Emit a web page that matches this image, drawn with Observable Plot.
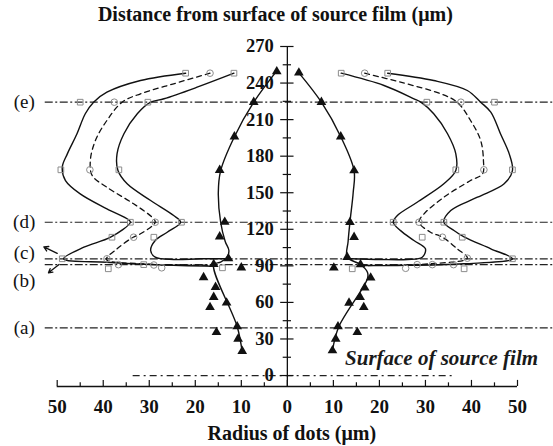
<!DOCTYPE html>
<html>
<head>
<meta charset="utf-8">
<script src="https://cdn.jsdelivr.net/npm/d3@7"></script>
<script src="https://cdn.jsdelivr.net/npm/@observablehq/plot@0.6"></script>
<style>
  html, body { margin: 0; padding: 0; background: #fff; }
  #chart svg { display: block; }
</style>
</head>
<body>
<div id="chart"></div>
<script>
// ---------- tick values ----------
const yMajorTicks = [0, 30, 60, 90, 120, 150, 180, 210, 240, 270];
const yMinorTicks = [15, 45, 75, 105, 135, 165, 195, 225, 255];
const xMajorTicks = [-50, -40, -30, -20, -10, 0, 10, 20, 30, 40, 50];
const xMinorTicks = [-45, -35, -25, -15, -5, 5, 15, 25, 35, 45];

// ---------- reference levels ----------
const levelNames = ["(e)", "(d)", "(c)", "(b)", "(a)"];
const levelValues = [224.3, 125.8, 95.8, 91.0, 39.1];
const refLineX = [-52.6, 58];       // extent of dash-dot level lines
const surfaceLineX = [-33.5, 36];    // extent of source-film surface line (y = 0)

// ---------- filled triangles (dot radius data) ----------
const triLeftX  = [-2.3, -7.3, -11.5, -14.7, -13.6, -14.7, -12.8, -16.0, -10.0, -18.2, -15.6, -16.0, -13.2, -16.8, -10.9, -15.4, -10.7, -9.8];
const triLeftY  = [249.5, 224.3, 196, 168.5, 126, 114, 96, 91.3, 88.5, 80.5, 72.5, 64.3, 59.7, 56, 40.2, 35.5, 30.1, 20];
const triRightX = [2.5, 7.4, 11.6, 14.5, 13.6, 14.5, 13.0, 15.9, 10.1, 18.1, 16.8, 15.8, 13.4, 16.6, 11.0, 15.2, 10.5, 9.8];
const triRightY = [248.4, 224.3, 196, 168.2, 125.8, 113.5, 97.1, 91.1, 88.4, 80.2, 72, 64.3, 59.6, 56, 40.2, 35.5, 30.1, 20.5];

// fitted line through triangles
const fitLeftX  = [-2.3, -7.3, -11.5, -14.5, -15.0, -14.5, -13.5, -12.7, -13.1, -14.5, -16.0, -10.9, -9.8];
const fitLeftY  = [250, 224.3, 196, 168, 150, 126, 110, 102.6, 97.1, 93, 91.1, 40.2, 19.1];
const fitRightX = [2.5, 7.4, 11.6, 14.5, 14.3, 13.6, 13.2, 13.0, 15.9, 17.4, 17.4, 11.2, 9.8];
const fitRightY = [248.4, 224.3, 196, 168, 150, 126, 110, 97.1, 91.1, 84.8, 79.4, 40.2, 20.5];

// ---------- open markers ----------
const sqLeftX  = [-22.1, -11.6, -45.0, -30.3, -49.2, -36.6, -34.1, -23.0, -38.1, -29.0, -48.9, -38.9, -31.2, -14.1];
const sqLeftY  = [248.1, 248.1, 224.3, 224.3, 168.8, 168.8, 125.8, 125.8, 113.5, 113.5, 95.8, 87.6, 91.0, 88.4];
const ciLeftX  = [-16.8, -37.6, -42.9, -28.7, -33.4, -39.2, -36.7, -29.0, -27.3];
const ciLeftY  = [248.1, 224.3, 168.8, 125.8, 113.5, 95.8, 91.0, 90.7, 88.4];
const sqRightX = [11.7, 21.8, 30.3, 45.0, 36.6, 48.9, 23.0, 34.0, 29.3, 38.0, 48.9, 14.1, 38.4];
const sqRightY = [248.1, 248.1, 224.3, 224.3, 168.8, 168.8, 125.8, 125.8, 113.5, 113.5, 95.8, 87.6, 87.6];
const ciRightX = [16.8, 37.7, 42.7, 28.6, 33.7, 39.1, 25.7, 28.2, 31.5, 36.1];
const ciRightY = [248.1, 224.3, 168.8, 125.8, 113.5, 96.3, 88.0, 91.0, 91.0, 91.0];

// ---------- smooth curves ----------
const outerLeftX  = [-22.1, -31.9, -39.2, -42.1, -43.9, -45.7, -47.8, -48.9, -48.2, -45.0, -39.2, -34.5, -34.1, -38.4, -44.2, -48.6, -39.2, -28.3, -16.0];
const outerLeftY  = [248.1, 242.1, 232.5, 224.3, 214.8, 198.4, 181.9, 171, 160, 149.1, 136.8, 127.8, 125.8, 113.5, 105.3, 95.8, 93, 90.9, 89.7];
const dashLeftX   = [-16.8, -24.7, -31.9, -35.9, -39.2, -41.7, -42.8, -42.4, -39.2, -33.4, -29.4, -28.7, -31.9, -33.5, -37.0, -39.3, -31.9, -16.5];
const dashLeftY   = [248.1, 239.4, 231.2, 224.3, 209.3, 192.9, 176.4, 164.1, 154.5, 140.9, 129.9, 125.8, 116.3, 113.5, 104, 95.2, 91.7, 90.5];
const innerLeftX  = [-11.6, -19.6, -26.8, -29.7, -32.6, -35.5, -37.0, -36.8, -34.8, -29.7, -24.7, -23.2, -26.1, -28.7, -29.7, -28.7, -24.7, -18.9, -13.1];
const innerLeftY  = [248.1, 236.6, 227.1, 224.3, 214.8, 198.4, 181.9, 168.2, 157.3, 143.6, 131.3, 125.8, 117.6, 110.8, 102.6, 97.1, 95.2, 95.8, 95.8];

const innerRightX = [11.7, 21.0, 27.5, 29.0, 31.8, 34.8, 36.6, 36.6, 34.0, 28.2, 23.9, 23.0, 24.6, 27.5, 30.0, 29.3, 26.1, 20.3, 13.7];
const innerRightY = [248.1, 238, 227.1, 224.3, 214.8, 198.4, 181.9, 168.2, 157.3, 142.2, 131.3, 125.8, 118.9, 110.8, 104, 97.1, 95.2, 95.2, 95.8];
const dashRightX  = [16.8, 24.6, 33.3, 36.9, 39.8, 42.0, 42.6, 42.4, 39.8, 34.0, 29.7, 28.6, 31.1, 33.7, 36.9, 39.1, 31.1, 16.6];
const dashRightY  = [248.1, 240.7, 231.2, 224.3, 209.3, 192.9, 176.4, 165.5, 160, 146.3, 132.7, 125.8, 117.6, 113.5, 104, 96.3, 91.7, 90.3];
const outerRightX = [21.8, 31.8, 39.1, 42.0, 44.2, 46.3, 48.2, 48.9, 47.1, 41.3, 35.5, 34.0, 36.2, 38.5, 44.2, 48.9, 38.4, 23.9, 15.9];
const outerRightY = [248.1, 242.1, 233.9, 224.3, 216.1, 198.4, 181.9, 168.2, 157.3, 146.3, 135.4, 125.8, 119, 113.5, 104, 95.8, 91.7, 90.3, 90.3];

// small arrows at the outer tip (levels c and b)
const arrowX1 = [-50.0, -49.6];
const arrowY1 = [100.2, 91.1];
const arrowX2 = [-52.9, -51.9];
const arrowY2 = [105.6, 84.3];

// annotation
const surfaceLabel = "Surface of source film";
const surfaceLabelPos = [33.5, 14];
const titleText = "Distance from surface of source film (\u03BCm)";
const xLabelText = "Radius of dots (\u03BCm)";

// ---------- build tables ----------
const zip = (xs, ys, extra = {}) => xs.map((x, i) => ({x, y: ys[i], ...extra}));
const triangles = [...zip(triLeftX, triLeftY), ...zip(triRightX, triRightY)];
const squares = [...zip(sqLeftX, sqLeftY), ...zip(sqRightX, sqRightY)];
const circles = [...zip(ciLeftX, ciLeftY), ...zip(ciRightX, ciRightY)];
const solidCurves = [
  ...zip(fitLeftX, fitLeftY, {s: "fitL"}),
  ...zip(fitRightX, fitRightY, {s: "fitR"}),
  ...zip(outerLeftX, outerLeftY, {s: "outerL"}),
  ...zip(innerLeftX, innerLeftY, {s: "innerL"}),
  ...zip(innerRightX, innerRightY, {s: "innerR"}),
  ...zip(outerRightX, outerRightY, {s: "outerR"})
];
const dashedCurves = [
  ...zip(dashLeftX, dashLeftY, {s: "dashL"}),
  ...zip(dashRightX, dashRightY, {s: "dashR"})
];
const levels = levelNames.map((name, i) => ({name, y: levelValues[i]}));
const arrows = arrowX1.map((x1, i) => ({x1, y1: arrowY1[i], x2: arrowX2[i], y2: arrowY2[i]}));

const serif = "'Liberation Serif', serif";
const yBase = -9;
const ink = "#111";
const markerGray = "#8c8c8c";
const levelLabel = (names, dy) => Plot.text(levels.filter(d => names.includes(d.name)), {
  y: "y", text: "name", frameAnchor: "left", dx: -33, dy, textAnchor: "middle", lineAnchor: "middle",
  fontFamily: serif, fontSize: 19, fill: ink
});

const chart = Plot.plot({
  width: 553,
  height: 446,
  marginLeft: 56.7,
  marginRight: 36,
  marginTop: 46,
  marginBottom: 60,
  style: {fontFamily: serif, background: "#fff", overflow: "visible"},
  x: {domain: [-50, 50], axis: null},
  y: {domain: [yBase, 270], axis: null},
  marks: [
    // reference dash-dot lines
    Plot.ruleY(levels, {y: "y", x1: refLineX[0], x2: refLineX[1], stroke: "#222", strokeWidth: 1.2, strokeDasharray: "8,2.5,2,2.5"}),
    Plot.ruleY([0], {x1: surfaceLineX[0], x2: surfaceLineX[1], stroke: "#222", strokeWidth: 1.2, strokeDasharray: "7,4,2,4"}),
    // axes
    Plot.ruleX([0], {y1: yBase, y2: 270, stroke: ink, strokeWidth: 1.3}),
    Plot.ruleY([yBase], {x1: -50, x2: 50, stroke: ink, strokeWidth: 1.3}),
    Plot.ruleY(yMajorTicks, {x1: -1.45, x2: 1.45, stroke: ink, strokeWidth: 1.2}),
    Plot.ruleY(yMinorTicks, {x1: -0.9, x2: 0.9, stroke: ink, strokeWidth: 1.2}),
    Plot.ruleX(xMajorTicks, {y1: yBase, y2: yBase + 5, stroke: ink, strokeWidth: 1.2}),
    Plot.ruleX(xMinorTicks, {y1: yBase, y2: yBase + 3, stroke: ink, strokeWidth: 1.2}),
    Plot.text(yMajorTicks, {x: 0, y: d => d, text: d => String(d), dx: -13.5, textAnchor: "end", fontFamily: serif, fontSize: 18.5, fontWeight: "bold", fill: ink}),
    Plot.text(xMajorTicks, {x: d => d, y: yBase, text: d => String(Math.abs(d)), dy: 20.5, fontFamily: serif, fontSize: 19, fontWeight: "bold", fill: ink}),
    // curves
    Plot.line(solidCurves, {x: "x", y: "y", z: "s", curve: "catmull-rom", stroke: ink, strokeWidth: 1.4}),
    Plot.line(dashedCurves, {x: "x", y: "y", z: "s", curve: "catmull-rom", stroke: ink, strokeWidth: 1.3, strokeDasharray: "5,4"}),
    Plot.arrow(arrows, {x1: "x1", y1: "y1", x2: "x2", y2: "y2", stroke: ink, strokeWidth: 1.3, headLength: 7}),
    // markers
    Plot.dot(squares, {x: "x", y: "y", symbol: "square", r: 3.2, stroke: markerGray, strokeWidth: 1, fill: "none"}),
    Plot.dot(circles, {x: "x", y: "y", symbol: "circle", r: 3.3, stroke: markerGray, strokeWidth: 1, fill: "none"}),
    Plot.dot(triangles, {x: "x", y: "y", symbol: "triangle", r: 3.6, fill: ink, stroke: "none"}),
    // level labels
    levelLabel(["(e)", "(d)", "(a)"], 0),
    levelLabel(["(c)"], -6),
    levelLabel(["(b)"], 16),
    // annotation and titles
    Plot.text([surfaceLabel], {x: surfaceLabelPos[0], y: surfaceLabelPos[1], text: d => d, fontFamily: serif, fontSize: 21, fontStyle: "italic", fontWeight: "bold", fill: "#1a1a1a"}),
    Plot.text([titleText], {frameAnchor: "top", lineAnchor: "middle", text: d => d, dx: -12, dy: -32, fontFamily: serif, fontSize: 20, fontWeight: "bold", fill: ink}),
    Plot.text([xLabelText], {frameAnchor: "bottom", lineAnchor: "middle", text: d => d, dx: 4.5, dy: 47, fontFamily: serif, fontSize: 20, fontWeight: "bold", fill: ink})
  ]
});
document.getElementById("chart").appendChild(chart);
</script>
</body>
</html>
